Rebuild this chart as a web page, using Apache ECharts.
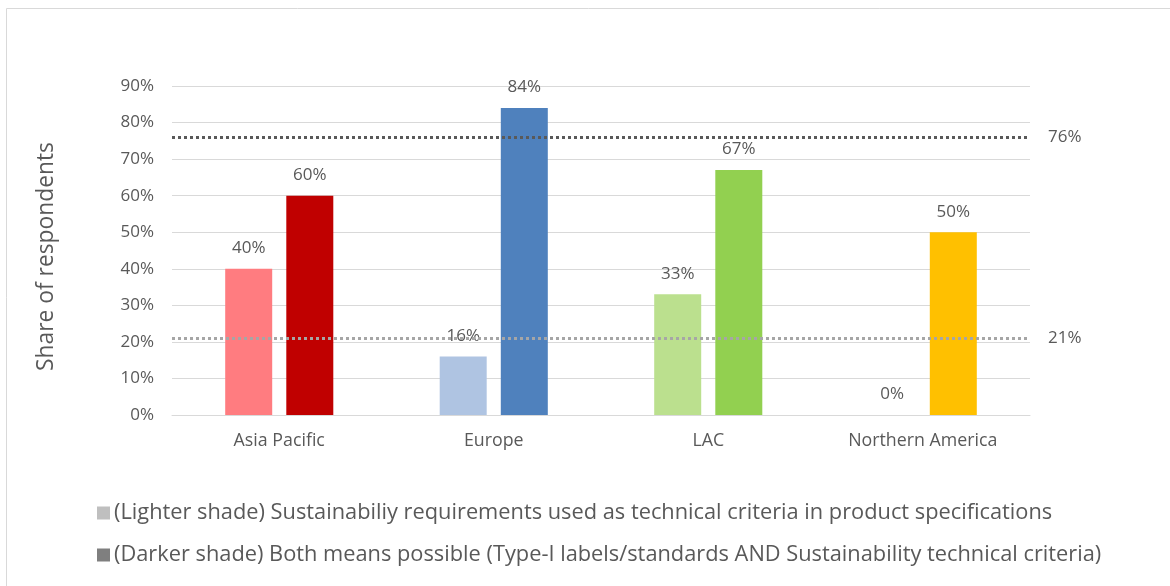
<!DOCTYPE html>
<html>
<head>
<meta charset="utf-8">
<script src="https://cdn.jsdelivr.net/npm/echarts@6/dist/echarts.min.js"></script>
<style>
  html, body { margin: 0; padding: 0; background: #fff; }
  #chart { width: 1170px; height: 586px; }
</style>
</head>
<body>
<div id="chart"></div>
<script>
// Regions on the category axis
const regions = ['Asia Pacific', 'Europe', 'LAC', 'Northern America'];

// Share of respondents (%) per region
const lighterValues = [40, 16, 33, 0];
const darkerValues = [60, 84, 67, 50];

// Per-region bar colours (lighter / darker shade)
const lighterColors = ['#FF7C80', '#AFC4E2', '#BBE08E', '#FFE699'];
const darkerColors = ['#C00000', '#4F81BD', '#92D050', '#FFC000'];

// Reference averages drawn as dotted lines
const averageValues = [76, 21];

const lighterName = '(Lighter shade) Sustainabiliy requirements used as technical criteria in product specifications';
const darkerName = '(Darker shade) Both means possible (Type-I labels/standards AND Sustainability technical criteria)';

const FONT = '"Open Sans", Lato, sans-serif';
const TEXT = '#595959';

const chart = echarts.init(document.getElementById('chart'), null, { renderer: 'canvas' });

const toItems = (vals, colors) => vals.map((v, i) => ({ value: v, itemStyle: { color: colors[i] } }));

const labelStyle = {
  show: true,
  position: 'top',
  distance: 12,
  color: TEXT,
  fontFamily: FONT,
  fontSize: 17,
  formatter: p => p.value + '%'
};

chart.setOption({
  animation: false,
  textStyle: { fontFamily: FONT },
  graphic: [{
    type: 'rect',
    silent: true,
    shape: { x: 6.5, y: 8.5, width: 1200, height: 600 },
    style: { fill: 'none', stroke: '#D9D9D9', lineWidth: 1 }
  }],
  grid: { left: 172, right: 140, top: 86, bottom: 171 },
  legend: {
    orient: 'vertical',
    left: 92,
    top: 497,
    itemWidth: 13,
    itemHeight: 13,
    itemGap: 20,
    icon: 'rect',
    selectedMode: false,
    textStyle: { color: TEXT, fontFamily: FONT, fontSize: 21.8, padding: [0, 0, 0, -1] },
    data: [lighterName, darkerName]
  },
  xAxis: {
    type: 'category',
    data: regions,
    axisLine: { lineStyle: { color: '#D9D9D9' } },
    axisTick: { show: false },
    axisLabel: { color: TEXT, fontFamily: FONT, fontSize: 17.8, margin: 17 }
  },
  yAxis: {
    type: 'value',
    min: 0,
    max: 90,
    interval: 10,
    name: 'Share of respondents',
    nameLocation: 'middle',
    nameGap: 114,
    nameTextStyle: { color: TEXT, fontFamily: FONT, fontSize: 22.8, padding: [0, 12, 0, 0] },
    axisLine: { show: false },
    axisTick: { show: false },
    splitLine: { lineStyle: { color: '#D9D9D9', width: 1 } },
    axisLabel: { color: TEXT, fontFamily: FONT, fontSize: 17, margin: 18, formatter: '{value}%' }
  },
  series: [
    {
      name: lighterName,
      type: 'bar',
      barWidth: 47,
      barGap: '30%',
      itemStyle: { color: '#BFBFBF' },
      label: labelStyle,
      data: toItems(lighterValues, lighterColors)
    },
    {
      name: darkerName,
      type: 'bar',
      barWidth: 47,
      barGap: '30%',
      itemStyle: { color: '#7F7F7F' },
      label: labelStyle,
      data: toItems(darkerValues, darkerColors),
      markLine: {
        silent: true,
        symbol: 'none',
        z: 5,
        label: {
          position: 'end',
          distance: 18,
          color: TEXT,
          fontFamily: FONT,
          fontSize: 17,
          formatter: p => p.value + '%'
        },
        data: [
          { yAxis: averageValues[0], lineStyle: { color: '#595959', type: [3, 3], width: 3 } },
          { yAxis: averageValues[1], lineStyle: { color: '#A6A6A6', type: [3, 3], width: 3 } }
        ]
      }
    }
  ]
});
</script>
</body>
</html>
